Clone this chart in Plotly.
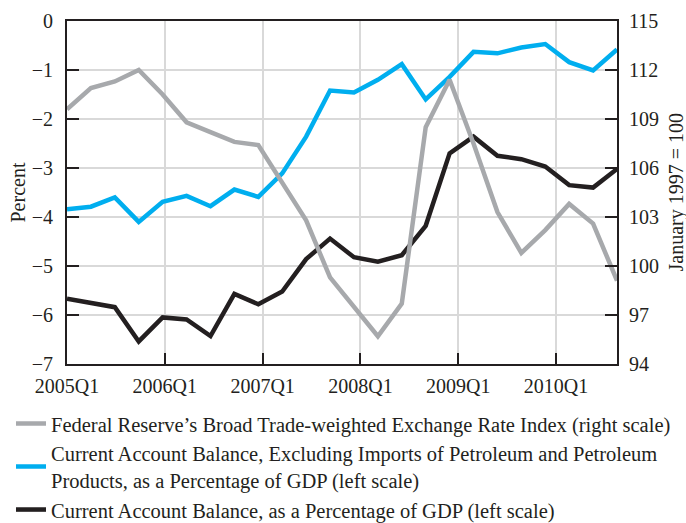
import plotly.graph_objects as go

quarters = [f"{y}Q{q}" for y in range(2005, 2011) for q in range(1, 5)]
tick_labels = ["2005Q1", "2006Q1", "2007Q1", "2008Q1", "2009Q1", "2010Q1"]

exchange_rate = [109.6, 110.9, 111.3, 112.0, 110.5, 108.8, 108.2, 107.6, 107.4, 105.1,
                 102.8, 99.3, 97.5, 95.7, 97.7, 108.5, 111.4, 107.5, 103.3, 100.8,
                 102.2, 103.8, 102.6, 99.1]
ca_ex_petroleum = [-3.84, -3.79, -3.60, -4.10, -3.69, -3.57, -3.78, -3.44, -3.59, -3.11,
                   -2.36, -1.42, -1.46, -1.20, -0.88, -1.60, -1.14, -0.63, -0.66, -0.54,
                   -0.47, -0.84, -1.01, -0.58]
ca_balance = [-5.67, -5.76, -5.84, -6.54, -6.05, -6.09, -6.43, -5.57, -5.78, -5.52,
              -4.86, -4.44, -4.82, -4.91, -4.78, -4.18, -2.70, -2.36, -2.75, -2.82,
              -2.97, -3.35, -3.40, -3.02]

names = [
    "Federal Reserve’s Broad Trade-weighted Exchange Rate Index (right scale)",
    "Current Account Balance, Excluding Imports of Petroleum and Petroleum<br>Products, as a Percentage of GDP (left scale)",
    "Current Account Balance, as a Percentage of GDP (left scale)",
]
colors = ["#a7a9ac", "#00aeef", "#231f20"]

x = list(range(len(quarters)))
TICK_STEP = 4.09

FONT = "Liberation Serif"
TICK_SIZE = 20
LEGEND_SIZE = 20.5

fig = go.Figure()
fig.add_trace(go.Scatter(x=x, y=ca_balance, name=names[2], mode="lines",
                         line=dict(color=colors[2], width=4.5), legendrank=3,
                         customdata=quarters))
fig.add_trace(go.Scatter(x=x, y=ca_ex_petroleum, name=names[1], mode="lines",
                         line=dict(color=colors[1], width=4.5), legendrank=2,
                         customdata=quarters))
fig.add_trace(go.Scatter(x=x, y=exchange_rate, name=names[0], mode="lines",
                         line=dict(color=colors[0], width=4.5), legendrank=1,
                         yaxis="y2", customdata=quarters))

fig.update_layout(
    width=686, height=523,
    margin=dict(l=67, r=69, t=21, b=159, autoexpand=False),
    paper_bgcolor="white", plot_bgcolor="white",
    font=dict(family=FONT, size=TICK_SIZE, color="#231f20"),
    showlegend=True,
    legend=dict(orientation="v", x=(11 - 67) / 550, xanchor="left", y=-0.116, yanchor="top",
                font=dict(family=FONT, size=LEGEND_SIZE, color="#231f20"),
                bgcolor="rgba(0,0,0,0)", traceorder="normal"),
    xaxis=dict(range=[0, len(quarters) - 1],
               tickvals=[i * TICK_STEP for i in range(len(tick_labels))],
               ticktext=tick_labels,
               showgrid=True, gridcolor="#d9d9d9", gridwidth=1.5,
               showline=True, linecolor="#231f20", linewidth=2, mirror=True,
               ticks="inside", ticklen=11, tickwidth=2, tickcolor="#231f20",
               zeroline=False, ticklabelstandoff=3, tickfont=dict(size=TICK_SIZE)),
    yaxis=dict(range=[-7, 0], dtick=1, tick0=0,
               showgrid=True, gridcolor="#d9d9d9", gridwidth=1.5,
               showline=True, linecolor="#231f20", linewidth=2,
               ticks="inside", ticklen=12, tickwidth=2, tickcolor="#231f20",
               zeroline=False, ticklabelstandoff=8, tickfont=dict(size=TICK_SIZE)),
    yaxis2=dict(range=[94, 115], dtick=3, tick0=94, overlaying="y", side="right",
                showgrid=False,
                showline=True, linecolor="#231f20", linewidth=2,
                ticks="inside", ticklen=12, tickwidth=2, tickcolor="#231f20",
                zeroline=False, ticklabelstandoff=6, tickfont=dict(size=TICK_SIZE)),
    annotations=[
        dict(text="Percent", textangle=-90, xref="paper", yref="paper",
             x=(17 - 67) / 550, y=0.5, xanchor="center", yanchor="middle",
             showarrow=False, font=dict(size=TICK_SIZE)),
        dict(text="January 1997 = 100", textangle=-90, xref="paper", yref="paper",
             x=(676 - 67) / 550, y=0.5, xanchor="center", yanchor="middle",
             showarrow=False, font=dict(size=TICK_SIZE)),
    ],
)

fig.write_html("out.html", config={"displayModeBar": False},
               post_script="document.body.style.margin='0';document.body.style.padding='0';")
